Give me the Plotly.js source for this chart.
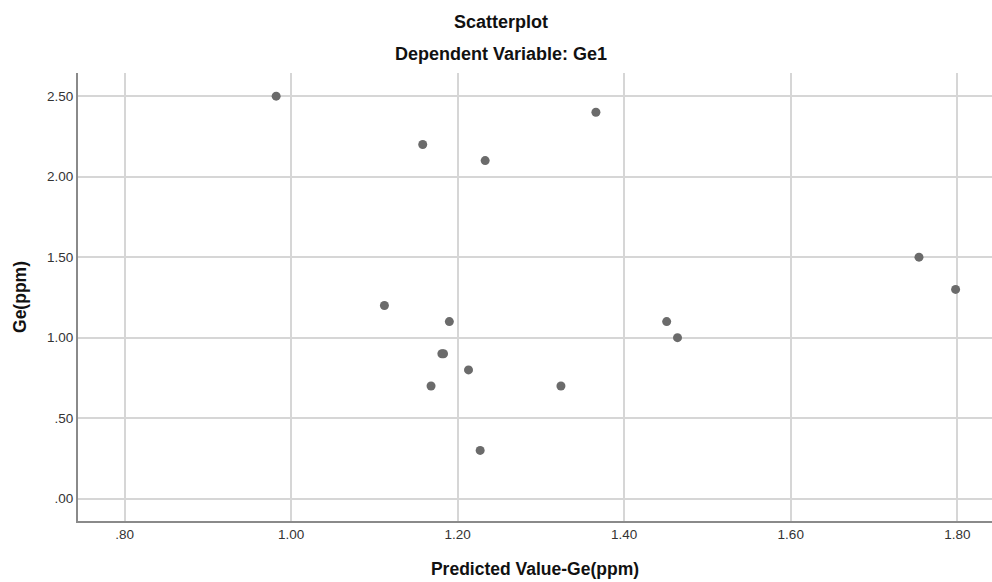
<!DOCTYPE html>
<html>
<head>
<meta charset="utf-8">
<script src="https://cdn.plot.ly/plotly-3.0.1.min.js"></script>
<style>html,body{margin:0;padding:0;background:#fff;}#chart{width:992px;height:582px;}</style>
</head>
<body>
<div id="chart"></div>
<script>
// Predicted values (x) and observed Ge(ppm) (y)
const predicted = [0.982, 1.158, 1.233, 1.366, 1.754, 1.798, 1.112, 1.190, 1.181, 1.183, 1.213, 1.168, 1.324, 1.227, 1.451, 1.464];
const observed  = [2.50, 2.20, 2.10, 2.40, 1.50, 1.30, 1.20, 1.10, 0.90, 0.90, 0.80, 0.70, 0.70, 0.30, 1.10, 1.00];
const xTickVals = [0.8, 1.0, 1.2, 1.4, 1.6, 1.8];
const xTickText = [".80", "1.00", "1.20", "1.40", "1.60", "1.80"];
const yTickVals = [0, 0.5, 1.0, 1.5, 2.0, 2.5];
const yTickText = [".00", ".50", "1.00", "1.50", "2.00", "2.50"];

const trace = {
  x: predicted, y: observed, type: 'scatter', mode: 'markers',
  marker: {size: 9, color: '#6b6b6b'}, hoverinfo: 'x+y'
};

const layout = {
  width: 992, height: 582,
  margin: {l: 78, r: 0, t: 73, b: 61},
  paper_bgcolor: '#ffffff', plot_bgcolor: '#ffffff',
  showlegend: false,
  font: {family: 'Liberation Sans, Arial, sans-serif', color: '#222'},
  xaxis: {
    range: [0.744, 1.8417], tickvals: xTickVals, ticktext: xTickText,
    showgrid: true, gridcolor: '#d6d6d6', gridwidth: 2,
    zeroline: false, showline: true, linecolor: '#8a8a8a', linewidth: 2,
    ticks: '', tickfont: {size: 13.5, color: '#333'},
    title: {text: '<b>Predicted Value-Ge(ppm)</b>', font: {size: 17.5, color: '#111'}, standoff: 22}
  },
  yaxis: {
    range: [-0.1385, 2.644], tickvals: yTickVals, ticktext: yTickText,
    showgrid: true, gridcolor: '#d6d6d6', gridwidth: 2,
    zeroline: false, showline: true, linecolor: '#8a8a8a', linewidth: 2,
    ticks: '', tickfont: {size: 13.5, color: '#333'},
    title: {text: '<b>Ge(ppm)</b>', font: {size: 17.5, color: '#111'}, standoff: 16}
  },
  annotations: [
    {text: '<b>Scatterplot</b>', xref: 'paper', yref: 'paper', x: (501-78)/914, y: 1, yshift: 51,
     showarrow: false, font: {size: 18, color: '#111'}, xanchor: 'center', yanchor: 'middle'},
    {text: '<b>Dependent Variable: Ge1</b>', xref: 'paper', yref: 'paper', x: (501-78)/914, y: 1, yshift: 19,
     showarrow: false, font: {size: 18, color: '#111'}, xanchor: 'center', yanchor: 'middle'}
  ]
};

Plotly.newPlot('chart', [trace], layout, {displayModeBar: false, staticPlot: true});
</script>
</body>
</html>
